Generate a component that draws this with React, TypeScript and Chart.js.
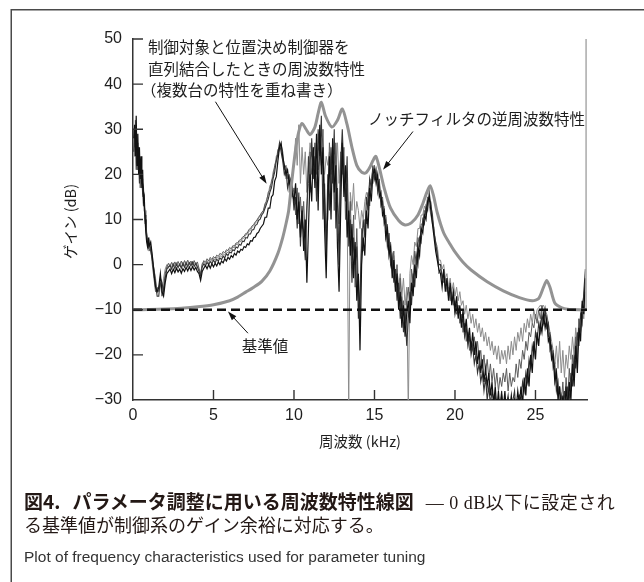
import React, { useEffect, useRef } from 'react';
import { Chart, registerables } from 'chart.js';

Chart.register(...registerables);

// ---------- data ----------
const freqKHz = [
  0.05, 0.1, 0.15, 0.2, 0.25, 0.3, 0.35, 0.4, 0.45, 0.5, 0.55, 0.6, 0.65, 0.7, 0.75, 0.8, 0.85, 0.9, 0.95, 1.0,
  1.1, 1.2, 1.3, 1.4, 1.5, 1.6, 1.7, 1.8, 1.9, 2.0,
  2.1, 2.2, 2.3, 2.4, 2.5, 2.6, 2.7, 2.8, 2.9, 3.0,
  3.1, 3.2, 3.3, 3.4, 3.5, 3.6, 3.7, 3.8, 3.9, 4.0,
  4.1, 4.2, 4.3, 4.4, 4.5, 4.6, 4.7, 4.8, 4.9, 5.0,
  5.1, 5.2, 5.3, 5.4, 5.5, 5.6, 5.7, 5.8, 5.9, 6.0,
  6.1, 6.2, 6.3, 6.4, 6.5, 6.6, 6.7, 6.8, 6.9, 7.0,
  7.1, 7.2, 7.3, 7.4, 7.5, 7.6, 7.7, 7.8, 7.9, 8.0,
  8.1, 8.2, 8.3, 8.4, 8.5, 8.6, 8.7, 8.8, 8.9, 9.0,
  9.1, 9.2, 9.3, 9.4, 9.5, 9.6, 9.7, 9.8, 9.9, 10.0,
  10.1, 10.2, 10.3, 10.4, 10.5, 10.6, 10.7, 10.8, 10.9, 11.0,
  11.1, 11.2, 11.3, 11.4, 11.5, 11.6, 11.7, 11.8, 11.9, 12.0,
  12.1, 12.2, 12.3, 12.4, 12.5, 12.6, 12.7, 12.8, 12.9, 13.0,
  13.1, 13.2, 13.3, 13.4, 13.5, 13.6, 13.7, 13.8, 13.9, 14.0,
  14.1, 14.2, 14.3, 14.4, 14.5, 14.6, 14.7, 14.8, 14.9, 15.0,
  15.1, 15.2, 15.3, 15.4, 15.5, 15.6, 15.7, 15.8, 15.9, 16.0,
  16.1, 16.2, 16.3, 16.4, 16.5, 16.6, 16.7, 16.8, 16.9, 17.0,
  17.1, 17.2, 17.3, 17.4, 17.5, 17.6, 17.7, 17.8, 17.9, 18.0,
  18.1, 18.2, 18.3, 18.4, 18.5, 18.6, 18.7, 18.8, 18.9, 19.0,
  19.1, 19.2, 19.3, 19.4, 19.5, 19.6, 19.7, 19.8, 19.9, 20.0,
  20.1, 20.2, 20.3, 20.4, 20.5, 20.6, 20.7, 20.8, 20.9, 21.0,
  21.1, 21.2, 21.3, 21.4, 21.5, 21.6, 21.7, 21.8, 21.9, 22.0,
  22.1, 22.2, 22.3, 22.4, 22.5, 22.6, 22.7, 22.8, 22.9, 23.0,
  23.1, 23.2, 23.3, 23.4, 23.5, 23.6, 23.7, 23.8, 23.9, 24.0,
  24.1, 24.2, 24.3, 24.4, 24.5, 24.6, 24.7, 24.8, 24.9, 25.0,
  25.1, 25.2, 25.3, 25.4, 25.5, 25.6, 25.7, 25.8, 25.9, 26.0,
  26.1, 26.2, 26.3, 26.4, 26.5, 26.6, 26.7, 26.8, 26.9, 27.0,
  27.1, 27.2, 27.3, 27.4, 27.5, 27.6, 27.7, 27.8, 27.9, 28.0,
  28.1,
];

const gainUnit1 = [
  28, 31, 24, 33, 22, 29, 20, 26, 19, 24, 17, 21, 14, 15, 10, 7, 5, 4, 6, 4,
  5, 2, -2, -5, -6, -5, -2, -6, -7, -4,
  -2, -1.5, -1, -2, -1, -1.8, -0.8, -1.6, -1, -1.9,
  -0.9, -1.5, -0.6, -1.4, -0.5, -1.3, -0.4, -1.2, -0.6, -1.5,
  -2, -3.5, -1.5, -0.8, -0.2, -0.9, 0, -0.8, 0.2, -0.5,
  0.3, -0.3, 0.6, 0, 0.8, 0.4, 1.3, 0.8, 1.6, 1.2,
  2, 1.6, 2.5, 2.1, 3, 2.7, 3.4, 3.2, 4, 3.8,
  4.6, 4.4, 5.3, 5.2, 6, 6.1, 6.9, 7.2, 8, 8.5,
  9, 10.5, 10.5, 12.5, 12.5, 15, 15.5, 18.5, 19.5, 23,
  26, 27, 24, 22, 20, 21, 18, 19, 16, 14,
  18, 10, 14, 6, 12, 3, 10, -4, 8, 20,
  14, 26, 17, 29, 12, 31, 20, 26, 8, -3,
  14, 24, 10, 28, 16, 22, 4, -6, 12, 27,
  15, 22, 6, 12, 2, 9, -3, 5, -8, -2,
  -19, 0, 6, 2, 12, 8, 17, 14, 20, 21,
  18, 20, 15, 16, 11, 12, 6, 8, 2, 4,
  -3, 1, -6, -2, -10, -6, -14, -9, -16, -11,
  -8, -13, -4, -7, 0, -3, 4, 2, 8, 7,
  11, 10, 14, 15, 12, 9, 6, 3, 1, -1,
  -2, -5, -1, -6, -3, -8, -4, -9, -6, -10,
  -7, -12, -9, -14, -10, -15, -12, -17, -14, -19,
  -15, -20, -17, -22, -19, -24, -21, -26, -23, -27,
  -24, -29, -26, -31, -27, -32, -28, -33, -29, -32,
  -28, -33, -30, -32, -29, -33, -30, -32, -28, -31,
  -27, -31, -25, -29, -23, -27, -20, -24, -17, -21,
  -15, -18, -13, -15, -11, -14, -12, -17, -16, -21,
  -20, -26, -24, -30, -27, -33, -29, -33, -27, -32,
  -26, -30, -22, -27, -18, -24, -14, -17, -8, -11,
  -3,
];

const gainUnit2 = [
  25, 29, 30, 21, 27, 24, 23, 18, 22, 20, 19, 16, 17, 12, 11, 8, 6, 5, 4, 5,
  3, 1, -1, -4, -7, -7, -3, -4, -6, -3,
  -1, -0.5, -0.2, -1, 0, -0.9, 0.1, -0.7, 0, -0.8,
  0.2, -0.6, 0.3, -0.5, 0.4, -0.3, 0.5, -0.4, 0.2, -0.6,
  -1.5, -2.5, -0.5, 0.2, -0.3, 0.5, 0, 0.7, 0.2, 1,
  0.4, 1.2, 0.8, 1.5, 1.1, 1.9, 1.5, 2.4, 2, 2.8,
  2.6, 3.3, 3.1, 3.9, 3.7, 4.5, 4.3, 5.2, 5.1, 6,
  5.9, 6.8, 6.8, 7.7, 7.8, 8.7, 8.9, 9.8, 10.1, 11,
  11.5, 12.5, 13.5, 14.5, 16, 17, 19, 20.5, 23, 24.5,
  27, 25, 23, 20, 21, 17, 19, 15, 17, 12,
  15, 8, 16, 4, 13, 7, 1, 12, 24, 16,
  28, 19, 24, 14, 30, 24, 33, 10, 18, 2,
  20, 12, 26, 18, 30, 8, 17, 0, 22, 30,
  20, 14, 24, 4, 10, -4, 6, 0, 4, -12,
  -6, 4, 10, 6, 15, 12, 19, 17, 22, 19,
  21, 16, 18, 13, 14, 9, 10, 4, 6, 0,
  2, -4, -1, -8, -4, -12, -7, -15, -10, -18,
  -12, -6, -9, -2, -5, 2, 0, 6, 5, 10,
  9, 13, 12, 16, 13, 11, 7, 5, 2, 0,
  0, -3, -2, -5, -4, -7, -5, -8, -7, -11,
  -9, -11, -10, -13, -12, -16, -14, -18, -16, -20,
  -18, -22, -20, -24, -22, -26, -24, -28, -25, -30,
  -27, -31, -28, -30, -29, -33, -30, -31, -28, -33,
  -30, -31, -29, -33, -31, -30, -28, -33, -30, -29,
  -30, -26, -28, -24, -26, -21, -23, -18, -20, -15,
  -17, -13, -15, -11, -13, -10, -14, -13, -19, -18,
  -23, -22, -28, -26, -32, -29, -31, -28, -33, -27,
  -30, -24, -27, -20, -23, -15, -18, -11, -13, -6,
  -1,
];

const gainUnit3 = [
  30, 26, 32, 27, 25, 21, 26, 22, 17, 21, 18, 19, 13, 14, 9, 10, 7, 6, 5, 3,
  4, 0, -3, -6, -5, -6, -4, -7, -5, -2,
  -0.5, 0.3, -0.5, 0.5, -0.3, 0.6, -0.2, 0.7, -0.1, 0.8,
  -0.2, 0.9, 0, 1, 0.1, 0.8, -0.1, 0.9, 0, 0.6,
  -0.8, -2, 0, 0.9, 0.5, 1.3, 0.8, 1.6, 1.1, 1.8,
  1.4, 2.1, 1.8, 2.5, 2.2, 2.9, 2.6, 3.3, 3.1, 3.8,
  3.5, 4.2, 4.1, 4.8, 4.8, 5.4, 5.5, 6.1, 6.3, 6.9,
  7, 7.8, 8, 8.6, 8.9, 9.5, 9.9, 10.5, 11, 11.6,
  12, 13.5, 14, 16, 16.5, 18.5, 19.5, 22, 23, 25.5,
  26, 26.5, 25, 21, 22, 19, 20, 17, 15, 17,
  11, 17, 9, 15, 8, 14, 6, 13, 18, 25,
  20, 23, 27, 20, 25, 28, 22, 30, 15, 8,
  10, 27, 21, 25, 12, 27, 14, 9, 25, 20,
  26, 10, 18, 8, 14, 1, 11, -5, 8, -5,
  -10, 8, 3, 10, 9, 16, 13, 19, 18, 22,
  20, 17, 19, 14, 15, 10, 11, 5, 7, 1,
  -1, 3, -5, 0, -8, -3, -11, -8, -13, -8,
  -5, -10, -1, -4, 3, 0, 6, 4, 9, 9,
  12, 11, 15, 14, 14, 10, 8, 4, 3, -2,
  -1, -2, -4, -3, -6, -5, -8, -6, -9, -8,
  -11, -9, -13, -11, -15, -13, -17, -15, -19, -17,
  -18, -16, -20, -17, -21, -19, -23, -20, -24, -21,
  -25, -22, -26, -23, -27, -24, -28, -25, -27, -24,
  -26, -23, -28, -24, -27, -25, -26, -22, -25, -21,
  -23, -19, -21, -17, -19, -15, -16, -13, -14, -11,
  -13, -10, -12, -9, -11, -10, -13, -16, -15, -21,
  -19, -25, -23, -29, -27, -31, -26, -32, -25, -30,
  -23, -28, -20, -25, -16, -21, -12, -15, -9, -7,
  -4,
];

const gainUnit4 = [
  27, 24, 29, 25, 23, 26, 21, 23, 20, 18, 20, 15, 16, 13, 12, 8, 7, 5, 5, 6,
  4, 2, -1, -3, -6, -5, -4, -6, -3, -1,
  0, -0.8, 0.2, -0.6, 0.4, -0.4, 0.5, -0.3, 0.3, -0.5,
  0.6, -0.2, 0.7, -0.1, 0.5, 0, 0.8, 0, 0.5, -0.3,
  -1, -2.2, 0.3, 0.6, 0.1, 0.9, 0.4, 1.2, 0.7, 1.4,
  1, 1.7, 1.3, 2, 1.7, 2.4, 2.1, 2.9, 2.6, 3.3,
  3.1, 3.9, 3.7, 4.5, 4.4, 5.1, 5.1, 5.8, 5.9, 6.6,
  6.7, 7.4, 7.6, 8.3, 8.6, 9.2, 9.6, 10.3, 10.8, 11.4,
  12, 13, 14.5, 15.5, 17.5, 18, 20.5, 21.5, 24, 24.5,
  25.5, 26, 23, 22, 19, 20, 16, 18, 20, 22,
  28, 22, 31, 18, 26, 20, 25, 16, 22, 27,
  24, 26, 22, 27, 21, 24, 25, 23, 20, 24,
  22, 25, 20, 26, 23, 21, 27, 18, 24, 22,
  18, 20, 14, -33, 16, 12, 18, 10, 14, 12,
  8, 12, 10, 14, 16, 15, 18, 19, 21, 20,
  19, 18, 16, 15, 12, 13, 8, 9, 4, 5,
  0, 2, -3, -1, -5, -2, -7, -3, -9, -5,
  -33, -2, 2, 0, 5, 4, 8, 8, 11, 11,
  13, 12, 15, 13, 11, 9, 7, 5, 4, 1,
  1, -1, 0, -3, -2, -5, -3, -6, -4, -7,
  -5, -8, -6, -9, -8, -11, -9, -12, -10, -13,
  -11, -14, -12, -15, -13, -16, -14, -17, -15, -18,
  -16, -19, -17, -20, -18, -21, -18, -22, -19, -21,
  -19, -22, -18, -21, -17, -20, -16, -19, -15, -17,
  -14, -17, -13, -15, -12, -14, -11, -13, -10, -12,
  -10, -9.5, -9, -9.5, -9, -10, -11, -13, -15, -17,
  -19, -22, -18, -23, -17, -24, -19, -25, -20, -23,
  -18, -21, -16, -20, -14, -18, -12, -15, -10, -12,
  -6,
];

// inverse frequency characteristic of the notch filter
const notchFreq = [
  0, 1, 2, 3, 4, 5, 6, 6.5, 7, 7.5, 8, 8.5, 9, 9.3, 9.5, 9.67, 9.88, 10.1, 10.3, 10.5, 10.75,
  11.0, 11.3, 11.5, 11.7, 11.95, 12.35, 12.7, 13.0, 13.3, 13.6, 13.9, 14.2, 14.45, 14.7, 14.9, 15.08,
  15.3, 15.6, 16.0, 16.5, 16.9, 17.3, 17.7, 18.0, 18.25, 18.45, 18.65, 18.9, 19.3, 19.7, 20.0,
  20.5, 21, 22, 23, 24, 24.8, 25.2, 25.5, 25.7, 25.9, 26.2, 26.6, 27, 28, 28.15,
];
const notchGain = [
  -10, -9.95, -9.85, -9.65, -9.35, -8.9, -8, -7.2, -6.1, -5, -3.7, -1.4, 2.5, 6, 9, 12, 19, 25.5, 29.5, 31.3, 30,
  28.8, 30.5, 33.5, 36, 33, 30.5, 32, 34.5, 31, 26, 22, 20.5, 20.3, 21.5, 23, 24,
  21.5, 17, 12.5, 9.8, 8.8, 9.3, 11, 13.5, 16, 17.5, 15.5, 11.5, 7, 4.5, 2.8,
  0.5, -1.2, -3.8, -5.8, -7.3, -8, -7.5, -5, -3.5, -5, -8.5, -9.5, -9.9, -10, -10,
];

// reference value (基準値)
const refFreq = [0, 28.2];
const refGain = [-10, -10];

// steep rise at the right end of the band
const edgeFreq = [28.15, 28.15];
const edgeGain = [-10, 52];

const xTicks = [0, 5, 10, 15, 20, 25];
const yTicks = [-30, -20, -10, 0, 10, 20, 30, 40, 50];

// annotation texts and arrows (data coordinates)
const measuredLabel = ['制御対象と位置決め制御器を', '直列結合したときの周波数特性', '（複数台の特性を重ね書き）'];
const notchLabel = 'ノッチフィルタの逆周波数特性';
const refLabel = '基準値';
const arrows = [
  { from: [5.12, 36.1], to: [8.3, 17.9] },
  { from: [17.39, 29.5], to: [15.53, 21.0] },
  { from: [7.14, -15.2], to: [5.9, -10.4] },
];

function pts(xs: number[], ys: number[]) {
  const n = Math.min(xs.length, ys.length);
  const out: { x: number; y: number }[] = [];
  for (let i = 0; i < n; i++) out.push({ x: xs[i], y: ys[i] });
  return out;
}

const TEXT = '#1e1e1e';
const JP = '"Noto Sans CJK JP", "Noto Sans", sans-serif';

const decorPlugin = {
  id: 'decor',
  beforeDraw(chart: any) {
    const { ctx, width, height } = chart;
    ctx.save();
    ctx.fillStyle = '#ffffff';
    ctx.fillRect(0, 0, width, height);
    ctx.strokeStyle = '#4a4a4a';
    ctx.lineWidth = 1.5;
    ctx.beginPath();
    ctx.moveTo(width, 9.75);
    ctx.lineTo(11.25, 9.75);
    ctx.lineTo(11.25, height);
    ctx.stroke();
    ctx.restore();
  },
  afterDraw(chart: any) {
    const { ctx } = chart;
    const xs = chart.scales.x;
    const ys = chart.scales.y;
    const area = chart.chartArea;
    ctx.save();
    ctx.strokeStyle = '#333';
    ctx.lineWidth = 1.4;
    ctx.beginPath();
    xTicks.forEach((v) => {
      if (v === xs.min) return;
      const px = xs.getPixelForValue(v);
      ctx.moveTo(px, area.bottom);
      ctx.lineTo(px, area.bottom - 10);
    });
    yTicks.forEach((v) => {
      if (v === ys.min) return;
      const py = ys.getPixelForValue(v);
      ctx.moveTo(area.left, py);
      ctx.lineTo(area.left + 10, py);
    });
    ctx.stroke();

    ctx.fillStyle = TEXT;
    ctx.font = `14.5px ${JP}`;
    ctx.textAlign = 'center';
    ctx.textBaseline = 'middle';
    ctx.fillText('周波数 (kHz)', (area.left + area.right) / 2, 441);
    ctx.save();
    ctx.translate(70, (area.top + area.bottom) / 2 + 2);
    ctx.rotate(-Math.PI / 2);
    ctx.fillText('ゲイン (dB)', 0, 0);
    ctx.restore();

    ctx.font = `15.5px ${JP}`;
    ctx.textAlign = 'left';
    ctx.fillText(measuredLabel[0], 148, 47.5);
    ctx.fillText(measuredLabel[1], 148, 69);
    ctx.fillText(measuredLabel[2], 141, 90);
    ctx.fillText(notchLabel, 368, 119);
    ctx.textAlign = 'center';
    ctx.fillText(refLabel, 265, 346);

    ctx.strokeStyle = '#111';
    ctx.fillStyle = '#111';
    ctx.lineWidth = 1;
    arrows.forEach((a) => {
      const x1 = xs.getPixelForValue(a.from[0]);
      const y1 = ys.getPixelForValue(a.from[1]);
      const x2 = xs.getPixelForValue(a.to[0]);
      const y2 = ys.getPixelForValue(a.to[1]);
      const ang = Math.atan2(y2 - y1, x2 - x1);
      const L = 9;
      const W = 3;
      ctx.beginPath();
      ctx.moveTo(x1, y1);
      ctx.lineTo(x2 - Math.cos(ang) * L * 0.8, y2 - Math.sin(ang) * L * 0.8);
      ctx.stroke();
      ctx.beginPath();
      ctx.moveTo(x2, y2);
      ctx.lineTo(x2 - Math.cos(ang) * L + Math.sin(ang) * W, y2 - Math.sin(ang) * L - Math.cos(ang) * W);
      ctx.lineTo(x2 - Math.cos(ang) * L - Math.sin(ang) * W, y2 - Math.sin(ang) * L + Math.cos(ang) * W);
      ctx.closePath();
      ctx.fill();
    });
    ctx.restore();
  },
};

function trace(label: string, ys: number[], color: string, width: number, order: number) {
  return {
    label,
    data: pts(freqKHz, ys),
    borderColor: color,
    borderWidth: width,
    pointRadius: 0,
    tension: 0,
    fill: false,
    order,
  };
}

export default function App() {
  const ref = useRef<HTMLCanvasElement | null>(null);

  useEffect(() => {
    if (!ref.current) return;
    const tickFont = { family: '"Liberation Sans", Arial, sans-serif', size: 16 };
    const chart = new Chart(ref.current, {
      type: 'line',
      data: {
        datasets: [
          {
            label: '基準値',
            data: pts(refFreq, refGain),
            borderColor: '#111',
            borderWidth: 2.5,
            borderDash: [9, 5],
            pointRadius: 0,
            order: 0,
          },
          {
            label: 'ノッチフィルタの逆周波数特性',
            data: pts(notchFreq, notchGain),
            borderColor: '#939393',
            borderWidth: 3,
            pointRadius: 0,
            tension: 0.25,
            order: 1,
          },
          {
            label: 'edge',
            data: pts(edgeFreq, edgeGain),
            borderColor: '#b8b8b8',
            borderWidth: 2,
            pointRadius: 0,
            order: 2,
          },
          trace('unit1', gainUnit1, '#111111', 1.2, 3),
          trace('unit2', gainUnit2, '#353535', 1.1, 4),
          trace('unit3', gainUnit3, '#5c5c5c', 1, 5),
          trace('unit4', gainUnit4, '#8c8c8c', 1, 6),
        ] as any,
      },
      options: {
        animation: false,
        responsive: false,
        devicePixelRatio: 1,
        layout: { padding: { left: 0, top: 39, right: 57, bottom: 142 } },
        plugins: { legend: { display: false }, tooltip: { enabled: false } },
        scales: {
          x: {
            type: 'linear',
            min: 0,
            max: 28.2,
            afterFit: (s: any) => {
              s.height = 40;
            },
            afterBuildTicks: (s: any) => {
              s.ticks = xTicks.map((v) => ({ value: v }));
            },
            grid: { display: false, drawTicks: false },
            border: { display: true, color: '#333', width: 1.5 },
            ticks: {
              autoSkip: false,
              maxRotation: 0,
              padding: 6,
              color: TEXT,
              font: tickFont,
              callback: (v: any) => String(v),
            },
          },
          y: {
            type: 'linear',
            min: -30,
            max: 50,
            afterFit: (s: any) => {
              s.width = 133;
            },
            afterBuildTicks: (s: any) => {
              s.ticks = yTicks.map((v) => ({ value: v }));
            },
            grid: { display: false, drawTicks: false },
            border: { display: true, color: '#333', width: 1.5 },
            ticks: {
              padding: 11,
              color: TEXT,
              font: tickFont,
              callback: (v: any) => String(v).replace('-', '\u2212'),
            },
          },
        },
      } as any,
      plugins: [decorPlugin],
    });
    return () => chart.destroy();
  }, []);

  return (
    <div style={{ position: 'absolute', left: 0, top: 0, width: 644, height: 582, overflow: 'hidden', background: '#fff' }}>
      <canvas ref={ref} width={644} height={582} style={{ position: 'absolute', left: 0, top: 0, width: 644, height: 582 }} />
      <div
        style={{
          position: 'absolute',
          left: 24,
          top: 487,
          whiteSpace: 'nowrap',
          lineHeight: '24px',
          color: '#231815',
        }}
      >
        <span style={{ font: `700 19px ${JP}` }}>図4.</span>
        <span style={{ display: 'inline-block', width: 12 }} />
        <span style={{ font: `700 19px ${JP}` }}>パラメータ調整に用いる周波数特性線図</span>
        <span style={{ font: `400 18px "Liberation Serif", ${JP}`, marginLeft: 12, letterSpacing: '0.5px' }}>— 0 dB以下に設定され</span>
      </div>
      <div
        style={{
          position: 'absolute',
          left: 24,
          top: 511,
          whiteSpace: 'nowrap',
          lineHeight: '24px',
          color: '#231815',
          font: `400 18px "Liberation Serif", ${JP}`,
        }}
      >
        る基準値が制御系のゲイン余裕に対応する。
      </div>
      <div
        style={{
          position: 'absolute',
          left: 24,
          top: 548,
          whiteSpace: 'nowrap',
          lineHeight: '18px',
          color: '#333',
          font: '400 15.5px "Liberation Sans", Arial, sans-serif',
        }}
      >
        Plot of frequency characteristics used for parameter tuning
      </div>
    </div>
  );
}
